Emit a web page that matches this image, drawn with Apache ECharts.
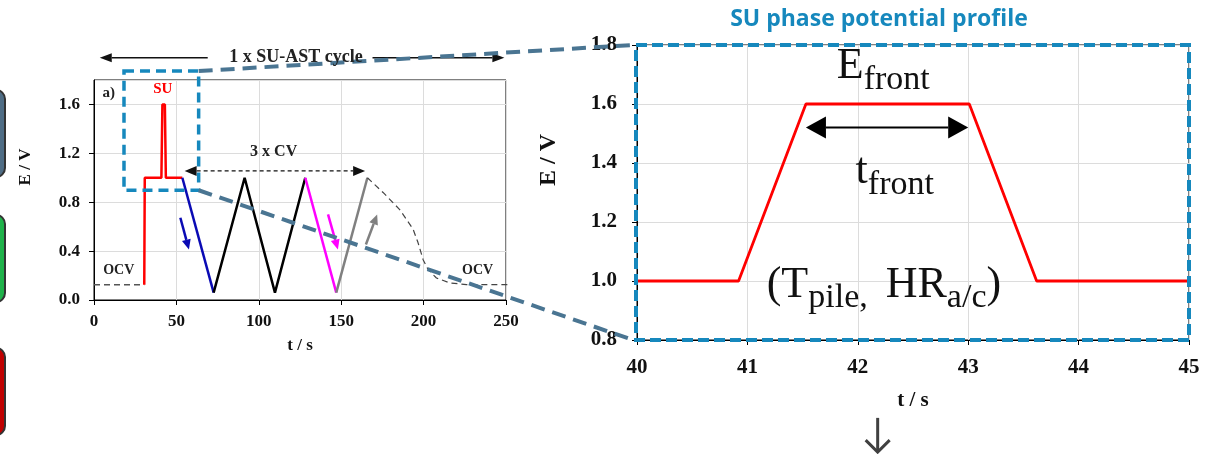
<!DOCTYPE html>
<html><head><meta charset="utf-8">
<script src="https://cdn.jsdelivr.net/npm/echarts@6/dist/echarts.min.js"></script>
<style>html,body{margin:0;padding:0;background:#fff}#c{width:1206px;height:454px}</style>
</head><body><div id="c"></div>
<script>
// ---------------- data (t in s, E in V) ----------------
const ocvStart   = [[0,0.125],[30.5,0.125]];
const suStep     = [[30.5,0.125],[30.8,1.0],[40.9,1.0],[41.5,1.6],[43.0,1.6],[43.6,1.0],[53.6,1.0]];
const cvBlue     = [[53.6,1.0],[72.6,0.06]];
const cvBlack    = [[72.6,0.06],[91.4,1.0],[109.8,0.06],[128.2,1.0]];
const cvMagenta  = [[128.2,1.0],[147.0,0.06]];
const cvGray     = [[147.0,0.06],[165.9,1.0]];
const ocvDecay   = [[165.9,1.0],[175.4,0.88],[185.5,0.74],[193.6,0.58],[196.6,0.47],[199.7,0.33],[202.7,0.25],[207.8,0.18],[215.9,0.14],[226,0.126],[251,0.125]];
const suZoom     = [[40,1.0],[40.92,1.0],[41.53,1.6],[43.01,1.6],[43.62,1.0],[45,1.0]];

// annotation anchors (data coordinates)
const zoomBox      = [[18.2,1.873],[63.5,0.898]];
const cycleArrowL  = [[69,1.982],[3.5,1.982]];
const cycleArrowR  = [[169,1.982],[249,1.982]];
const cvArrow      = [[55,1.056],[164.5,1.056]];
const blueArrow    = [[52.4,0.673],[57.6,0.413]];
const magentaArrow = [[142,0.70],[148,0.413]];
const grayArrow    = [[165,0.454],[171.8,0.70]];
const frontArrow   = [[41.53,1.52],[43.0,1.52]];
const leftLabels   = [
  {text:'a)', at:[8.9,1.694], color:'#222', size:15},
  {text:'SU', at:[41.7,1.727], color:'#ff0000', size:15},
  {text:'3 x CV', at:[109,1.21], color:'#222', size:16},
  {text:'OCV', at:[15,0.245], color:'#222', size:14},
  {text:'OCV', at:[232.8,0.245], color:'#222', size:14},
  {text:'1 x SU-AST cycle', at:[122.5,1.982], color:'#222', size:18}
];

const SERIF = '"Liberation Serif", "Times New Roman", serif';
const BLUE = '#1688bd', STEEL = '#4a7592';

const chart = echarts.init(document.getElementById('c'), null, {renderer:'canvas'});

function axisCommon(size, margin){
  return {
    axisLine:{show:true, lineStyle:{color:'#000', width:1}},
    axisTick:{show:true, inside:false, length:5, lineStyle:{color:'#000'}},
    axisLabel:{color:'#111', fontFamily:SERIF, fontWeight:'bold', fontSize:size, margin:margin},
    splitLine:{show:true, lineStyle:{color:'#dcdcdc', width:1}}
  };
}
function line(data, color, width, xi, dash){
  return {type:'line', xAxisIndex:xi, yAxisIndex:xi, data:data, symbol:'none', animation:false,
    lineStyle:{color:color, width:width, type: dash||'solid'}, z:3};
}

const option = {
  animation:false,
  title:{text:'SU phase potential profile', left:874, top:3, textAlign:'center',
    textStyle:{color:BLUE, fontFamily:'"Open Sans", sans-serif', fontWeight:'bold', fontSize:23}},
  grid:[
    {left:94, top:80, width:412, height:220, show:true, borderColor:'#000', borderWidth:1},
    {left:637, top:45, width:552, height:295, show:true, borderColor:'#000', borderWidth:1}
  ],
  xAxis:[
    Object.assign(axisCommon(17,13), {gridIndex:0, type:'value', min:0, max:250, interval:50,
      name:'t / s', nameLocation:'middle', nameGap:37,
      nameTextStyle:{fontFamily:SERIF, fontWeight:'bold', fontSize:17, color:'#111'}}),
    Object.assign(axisCommon(21,17), {gridIndex:1, type:'value', min:40, max:45, interval:1,
      name:'t / s', nameLocation:'middle', nameGap:50,
      nameTextStyle:{fontFamily:SERIF, fontWeight:'bold', fontSize:21, color:'#111'}})
  ],
  yAxis:[
    Object.assign(axisCommon(17,14), {gridIndex:0, type:'value', min:0, max:1.8, interval:0.4,
      name:'E / V', nameLocation:'middle', nameGap:60, nameRotate:90,
      nameTextStyle:{fontFamily:SERIF, fontWeight:'bold', fontSize:17, color:'#111', padding:[0,0,0,46]}}),
    Object.assign(axisCommon(21,20), {gridIndex:1, type:'value', min:0.8, max:1.8, interval:0.2,
      name:'E / V', nameLocation:'middle', nameGap:76, nameRotate:90,
      nameTextStyle:{fontFamily:SERIF, fontWeight:'bold', fontSize:24, color:'#111', padding:[0,0,0,65]}})
  ],
  series:[
    line(ocvStart, '#555', 1.5, 0, [6,4]),
    line(suStep, '#ff0000', 2.5, 0),
    line(cvBlue, '#0a0ab4', 2.5, 0),
    line(cvBlack, '#000000', 2.5, 0),
    line(cvMagenta, '#ff00ff', 2.5, 0),
    line(cvGray, '#808080', 2.5, 0),
    line(ocvDecay, '#444', 1.2, 0, [6,4]),
    line(suZoom, '#ff0000', 2.8, 1)
  ]
};
option.yAxis[0].axisLabel.showMaxLabel = false;
option.yAxis[0].axisLabel.formatter = v => v.toFixed(1);
option.yAxis[1].axisLabel.formatter = v => v.toFixed(1);
chart.setOption(option);

// ---------------- annotations, placed from data coordinates ----------------
const P0 = p => chart.convertToPixel({xAxisIndex:0, yAxisIndex:0}, p);
const P1 = p => chart.convertToPixel({xAxisIndex:1, yAxisIndex:1}, p);
const ctx = document.createElement('canvas').getContext('2d');
function textW(t, font){ ctx.font = font; return ctx.measureText(t).width; }

const G = [];
function arrow(a, b, color, width, hl, hw, dash, both){
  const dx = b[0]-a[0], dy = b[1]-a[1], L = Math.hypot(dx,dy), ux = dx/L, uy = dy/L, nx = -uy, ny = ux;
  const s = both ? [a[0]+ux*hl, a[1]+uy*hl] : a;
  const e = [b[0]-ux*hl, b[1]-uy*hl];
  G.push({type:'line', z:50, shape:{x1:s[0],y1:s[1],x2:e[0],y2:e[1]},
    style:{stroke:color, lineWidth:width, lineDash: dash||null}});
  const head = (tip, dir) => {
    const bx = tip[0]-dir[0]*hl, by = tip[1]-dir[1]*hl;
    G.push({type:'polygon', z:50, shape:{points:[tip,[bx+nx*hw/2,by+ny*hw/2],[bx-nx*hw/2,by-ny*hw/2]]},
      style:{fill:color}});
  };
  head(b, [ux,uy]);
  if (both) head(a, [-ux,-uy]);
}

// colored side tabs (partially visible at the left edge)
[['#4f6d85',90,87],['#1fb24a',215,87],['#c00000',348,87]].forEach(([c,y,h]) => {
  G.push({type:'rect', z:40, shape:{x:-20, y:y, width:25, height:h, r:9},
    style:{fill:c, stroke:'#333', lineWidth:2}});
});

// left chart labels
leftLabels.forEach(l => {
  const p = P0(l.at);
  G.push({type:'text', z:60, x:p[0], y:p[1], style:{text:l.text, fill:l.color,
    font:'bold '+l.size+'px '+SERIF, align:'center', verticalAlign:'middle'}});
});

// arrows in left chart
arrow(P0(cycleArrowL[0]), P0(cycleArrowL[1]), '#111', 1.5, 12, 9);
arrow(P0(cycleArrowR[0]), P0(cycleArrowR[1]), '#111', 1.5, 12, 9);
arrow(P0(cvArrow[0]), P0(cvArrow[1]), '#111', 1.2, 12, 10, [4,3], true);
arrow(P0(blueArrow[0]), P0(blueArrow[1]), '#0a0ab4', 2.5, 10, 9);
arrow(P0(magentaArrow[0]), P0(magentaArrow[1]), '#ff00ff', 2.5, 10, 9);
arrow(P0(grayArrow[0]), P0(grayArrow[1]), '#808080', 2.5, 10, 9);

// zoom box in left chart
const zb0 = P0(zoomBox[0]), zb1 = P0(zoomBox[1]);
G.push({type:'rect', z:55, shape:{x:zb0[0], y:zb0[1], width:zb1[0]-zb0[0], height:zb1[1]-zb0[1]},
  style:{fill:null, stroke:BLUE, lineWidth:3.5, lineDash:[10,6]}});

// right chart frame (dashed blue over black border)
const r0 = P1([40,1.8]), r1 = P1([45,0.8]);
G.push({type:'rect', z:55, shape:{x:r0[0]-1, y:r0[1], width:r1[0]-r0[0]+1, height:r1[1]-r0[1]},
  style:{fill:null, stroke:BLUE, lineWidth:4, lineDash:[11,5]}});

// connectors
G.push({type:'line', z:58, shape:{x1:zb1[0], y1:zb0[1], x2:r0[0]-4, y2:r0[1]},
  style:{stroke:STEEL, lineWidth:4, lineDash:[14,8]}});
G.push({type:'line', z:58, shape:{x1:zb1[0], y1:zb1[1], x2:r0[0]-4, y2:r1[1]},
  style:{stroke:STEEL, lineWidth:4, lineDash:[14,8]}});

// right chart: t_front arrow
arrow(P1(frontArrow[0]), P1(frontArrow[1]), '#000', 2, 20, 22, null, true);

// right chart: text with subscripts
function subText(parts, anchor){
  // parts: [text, size, isSub, gapAfter]; anchor: [t,E] = left edge at main baseline
  const p = P1(anchor);
  let x = p[0];
  parts.forEach(([t, size, sub, gap]) => {
    const font = size+'px '+SERIF;
    const base = p[1] + (sub ? 10 : 0);
    G.push({type:'text', z:60, x:x, y:base - 0.34*size,
      style:{text:t, fill:'#111', font:font, align:'left', verticalAlign:'middle'}});
    x += textW(t, font) + (gap||0);
  });
}
subText([['E',44],['front',34,true]], [41.81,1.676]);
subText([['t',44],['front',34,true]], [41.98,1.32]);
subText([['(T',44],['pile,',34,true,18],['HR',44],['a/c',34,true],[')',44]], [41.175,0.9356]);

// down arrow under right chart
const d0 = P1([42.18,0.536]), d1 = P1([42.18,0.42]);
G.push({type:'line', z:60, shape:{x1:d0[0],y1:d0[1],x2:d1[0],y2:d1[1]-1}, style:{stroke:'#404040', lineWidth:3}});
G.push({type:'polyline', z:60, shape:{points:[[d1[0]-12,d1[1]-12],[d1[0],d1[1]],[d1[0]+12,d1[1]-12]]},
  style:{stroke:'#404040', lineWidth:3, fill:null}});

chart.setOption({graphic:G});
</script></body></html>
